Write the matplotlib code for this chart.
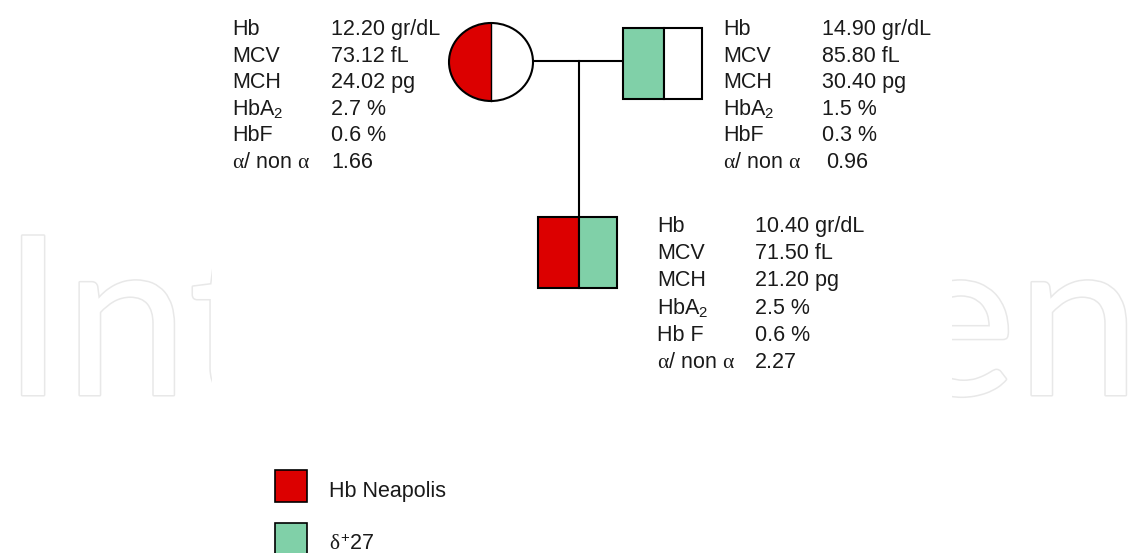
import matplotlib.pyplot as plt
import matplotlib.patheffects as pe
from matplotlib.patches import Rectangle, Ellipse

plt.rcParams['font.family'] = ['Liberation Sans', 'DejaVu Sans']
plt.rcParams['mathtext.fontset'] = 'custom'
plt.rcParams['mathtext.rm'] = 'Liberation Sans'
plt.rcParams['mathtext.it'] = 'Liberation Serif'

# lab values: mother, father, child
members = ['mother', 'father', 'child']
hb = [12.20, 14.90, 10.40]
mcv = [73.12, 85.80, 71.50]
mch = [24.02, 30.40, 21.20]
hba2 = [2.7, 1.5, 2.5]
hbf = [0.6, 0.3, 0.6]
alpha_ratio = [1.66, 0.96, 2.27]

row_labels = ['Hb', 'MCV', 'MCH', 'HbA$_2$', 'HbF', r'$\alpha$/ non $\alpha$']
child_labels = ['Hb', 'MCV', 'MCH', 'HbA$_2$', 'Hb F', r'$\alpha$/ non $\alpha$']
legend_labels = ['Hb Neapolis', r'$\delta^{+}$27']

RED = '#dc0000'
GREEN = '#80d0a8'
TXT = '#1a1a1a'
FS = 15.5

fig = plt.figure(figsize=(11.4, 5.53), dpi=100)
ax = fig.add_axes([0, 0, 1, 1])
ax.set_xlim(0, 1140)
ax.set_ylim(553, 0)
ax.axis('off')

# faint watermark
wm = dict(fontsize=160, color='white', family='Lato', va='baseline', zorder=0,
          path_effects=[pe.Stroke(linewidth=2.2, foreground='#e8e8e8'), pe.Normal()])
ax.text(2, 395, 'Int', ha='left', **wm)
ax.text(1140, 395, 'en', ha='right', **wm)
ax.add_patch(Rectangle((212, 0), 740, 420, facecolor='white', edgecolor='none', zorder=1))


def values(i):
    return [f'{hb[i]:.2f} gr/dL', f'{mcv[i]:.2f} fL', f'{mch[i]:.2f} pg',
            f'{hba2[i]:.1f} %', f'{hbf[i]:.1f} %', f'{alpha_ratio[i]:.2f}']


def block(x_lab, x_val, y0, dy, labels, vals):
    for k, (lab, v) in enumerate(zip(labels, vals)):
        y = y0 + k * dy
        ax.text(x_lab, y, lab, fontsize=FS, color=TXT, va='baseline', zorder=3)
        xv = x_val + (4 if k == 5 and v.startswith('0') else 0)
        ax.text(xv, y, v, fontsize=FS, color=TXT, va='baseline', zorder=3)


block(232, 331, 35, 26.6, row_labels, values(0))
block(723, 822, 35, 26.6, row_labels, values(1))
block(657, 755, 232, 27.2, child_labels, values(2))

lw = 1.5
# lines
ax.plot([533, 623], [61, 61], color='black', lw=lw, zorder=2)
ax.plot([579, 579], [61, 217], color='black', lw=lw, zorder=2)

# mother: circle, left half red
ax.add_patch(Ellipse((491, 62), 84, 78, facecolor='white', edgecolor='none', zorder=3))
clip = Ellipse((491, 62), 84, 78, transform=ax.transData)
half = Rectangle((449, 23), 42, 78, facecolor=RED, edgecolor='none', zorder=3)
ax.add_patch(half)
half.set_clip_path(clip)
ax.plot([491, 491], [23, 101], color='black', lw=1.0, zorder=4)
ax.add_patch(Ellipse((491, 62), 84, 78, facecolor='none', edgecolor='black', lw=lw, zorder=4))

# father: square, left half green
ax.add_patch(Rectangle((623, 28), 41, 71, facecolor=GREEN, edgecolor='black', lw=lw, zorder=3))
ax.add_patch(Rectangle((664, 28), 38, 71, facecolor='white', edgecolor='black', lw=lw, zorder=3))

# child: red left, green right
ax.add_patch(Rectangle((538, 217), 41, 71, facecolor=RED, edgecolor='black', lw=lw, zorder=3))
ax.add_patch(Rectangle((579, 217), 38, 71, facecolor=GREEN, edgecolor='black', lw=lw, zorder=3))

# legend
for k, (lab, c) in enumerate(zip(legend_labels, [RED, GREEN])):
    y = 470 + k * 53
    ax.add_patch(Rectangle((275, y), 32, 32, facecolor=c, edgecolor='black', lw=1.2, zorder=3))
    ax.text(329, y + 21, lab, fontsize=FS, color=TXT, va='center', zorder=3)

fig.savefig('out.png', dpi=100)
